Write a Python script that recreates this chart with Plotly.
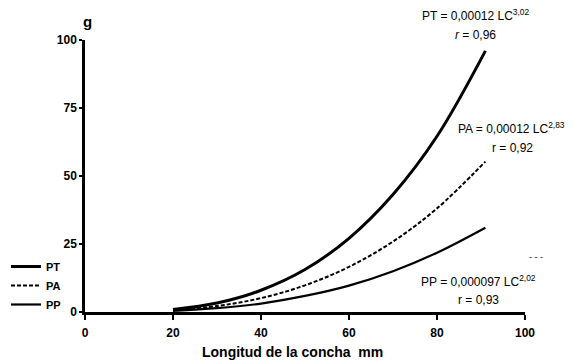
import plotly.graph_objects as go

# Longitud de la concha (mm)
lc = [20, 30, 40, 50, 60, 70, 80, 91]
# Weights (g)
pt = [0.9, 3.3, 8.0, 15.6, 27.1, 43.2, 64.6, 96.0]
pa = [0.7, 2.2, 5.1, 9.8, 16.6, 25.9, 38.1, 55.3]
pp = [0.45, 1.4, 3.1, 5.9, 9.7, 15.0, 21.8, 31.0]

series_names = ["PT", "PA", "PP"]
x_ticks = [0, 20, 40, 60, 80, 100]
y_ticks = [0, 25, 50, 75, 100]

FONT = "Liberation Sans, Arial, sans-serif"
W, H = 573, 364
ML, MR, MT, MB = 0, 48, 40, 52
PAPER_W = W - ML - MR
PAPER_H = H - MT - MB
PLOT_LEFT = 85

fig = go.Figure()
fig.add_trace(go.Scatter(x=lc, y=pt, mode="lines", name=series_names[0],
                         line=dict(color="black", width=3, shape="spline")))
fig.add_trace(go.Scatter(x=lc, y=pa, mode="lines", name=series_names[1],
                         line=dict(color="black", width=2, dash="4px,2px", shape="spline")))
fig.add_trace(go.Scatter(x=lc, y=pp, mode="lines", name=series_names[2],
                         line=dict(color="black", width=2.2, shape="spline")))

fig.update_layout(
    width=W, height=H, autosize=False,
    margin=dict(l=ML, r=MR, t=MT, b=MB, autoexpand=False),
    paper_bgcolor="white", plot_bgcolor="white",
    font=dict(family=FONT, color="black"),
    showlegend=True,
    legend=dict(x=6 / PAPER_W, y=(H - MB - 252) / PAPER_H,
                xanchor="left", yanchor="top",
                font=dict(family=FONT, size=11, weight="bold"),
                bgcolor="rgba(0,0,0,0)", tracegroupgap=0, itemwidth=30),
    xaxis=dict(domain=[PLOT_LEFT / PAPER_W, 1], range=[0, 100], tickvals=x_ticks,
               showgrid=False, zeroline=False, automargin=False,
               showline=True, linecolor="black", linewidth=2.5,
               ticks="outside", ticklen=5, tickwidth=2, tickcolor="black",
               ticklabelstandoff=3,
               tickfont=dict(family=FONT, size=12, weight="bold")),
    yaxis=dict(range=[0, 100], tickvals=y_ticks, showgrid=False, zeroline=False,
               automargin=False,
               showline=True, linecolor="black", linewidth=2.5,
               ticks="outside", ticklen=3, tickwidth=2, tickcolor="black",
               tickfont=dict(family=FONT, size=12, weight="bold")),
)


def add_text(text, px, py, size=12, bold=False):
    # px, py given in figure pixels -> paper coordinates
    fig.add_annotation(text=text, x=(px - ML) / PAPER_W, y=(H - MB - py) / PAPER_H,
                       xref="paper", yref="paper", xanchor="center", yanchor="middle",
                       showarrow=False,
                       font=dict(family=FONT, size=size, color="black",
                                 weight="bold" if bold else "normal"))


add_text("g", 87, 21, size=15, bold=True)
add_text("Longitud de la concha  mm", 292, 352, size=14, bold=True)
add_text("PT = 0,00012 LC<sup>3,02</sup>", 475, 15, size=12)
add_text("<i>r</i> = 0,96", 475, 35, size=12)
add_text("PA = 0,00012 LC<sup>2,83</sup>", 511, 128, size=12)
add_text("r = 0,92", 512, 148, size=12)
add_text("PP = 0,000097 LC<sup>2,02</sup>", 478, 281, size=12)
add_text("r = 0,93", 478, 300, size=12)
add_text("- - -", 536, 257, size=9)

fig.write_html("out.html", config={"displayModeBar": False},
               post_script="document.body.style.margin='0';")
